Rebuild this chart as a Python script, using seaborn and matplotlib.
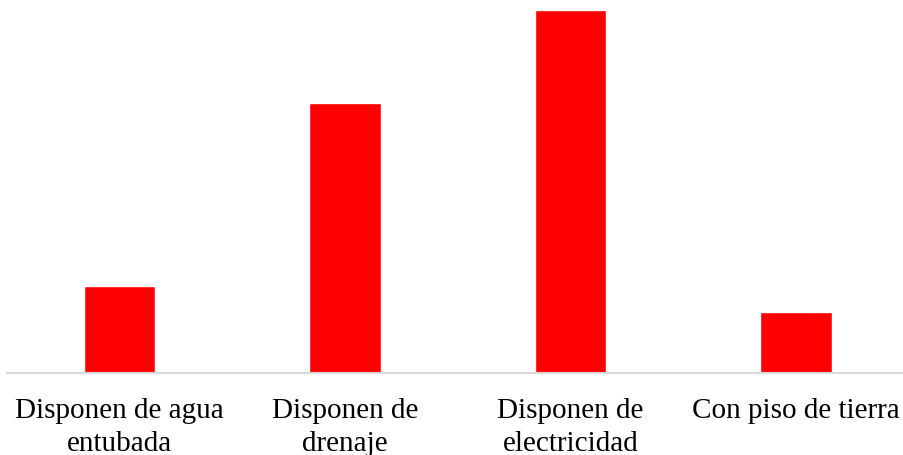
import matplotlib
matplotlib.use("Agg")
import matplotlib.pyplot as plt
import seaborn as sns
import pandas as pd

categories = ["Disponen de agua\nentubada", "Disponen de\ndrenaje",
              "Disponen de\nelectricidad", "Con piso de tierra"]
values = [23.1, 72.1, 97.0, 16.1]

df = pd.DataFrame({"cat": categories, "val": values})

sns.set_theme(style="white")
plt.rcParams["font.family"] = ["Liberation Serif", "DejaVu Serif"]

fig = plt.figure(figsize=(9.04, 4.56), dpi=100)
W, H = 904, 456
left, width = 6.75, 902
bottom, height = 456 - 373.5, 362.5
ax = fig.add_axes([left / W, bottom / H, width / W, height / H])
sns.barplot(data=df, x="cat", y="val", color="#ff0000", saturation=1,
            width=0.315, ax=ax)
ax.set_xlim(-0.5, 3.5)
ax.set_ylim(0, 97)
for s in ["top", "right", "left"]:
    ax.spines[s].set_visible(False)
ax.spines["bottom"].set_color("#d9d9d9")
ax.spines["bottom"].set_linewidth(1.5)
ax.set_xlabel("")
ax.set_ylabel("")
ax.set_yticks([])
ax.tick_params(axis="x", length=0, pad=18, labelsize=21, colors="black")
for lbl in ax.get_xticklabels():
    lbl.set_linespacing(1.33)
fig.savefig("out.png", dpi=100)
